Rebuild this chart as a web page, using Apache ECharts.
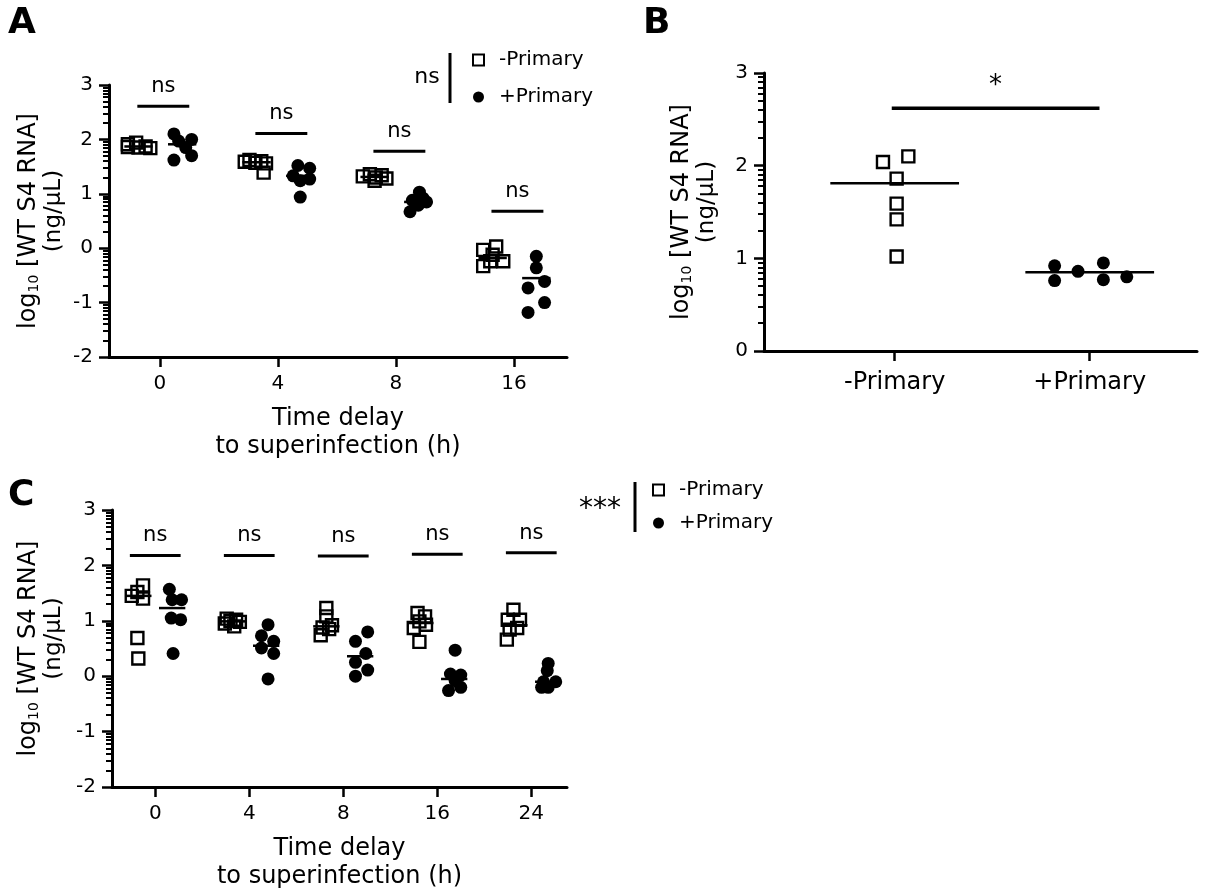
<!DOCTYPE html>
<html>
<head>
<meta charset="utf-8">
<script src="https://cdn.jsdelivr.net/npm/echarts@6/dist/echarts.min.js"></script>
<style>
    html, body {margin: 0; background: #fff;}
    #chart {width: 1225px; height: 892px;}
</style>
</head>
<body>
<div id="chart"></div>
<script>
// ---- panel A : time course, 4 delays ----
let a_times = ['0', '4', '8', '16'];
let a_minus = [
    [1.94, 1.91, 1.87, 1.86, 1.85, 1.84],
    [1.62, 1.60, 1.59, 1.57, 1.56, 1.39],
    [1.36, 1.34, 1.32, 1.30, 1.28, 1.24],
    [0.03, -0.03, -0.12, -0.24, -0.24, -0.33]
];
let a_minus_x = [
    [-0.20, -0.27, -0.12, -0.27, -0.18, -0.08],
    [-0.24, -0.14, -0.28, -0.19, -0.10, -0.12],
    [-0.22, -0.12, -0.28, -0.17, -0.08, -0.18],
    [-0.15, -0.26, -0.18, -0.09, -0.20, -0.26]
];
let a_plus = [
    [2.10, 2.00, 1.97, 1.85, 1.70, 1.62],
    [1.52, 1.47, 1.33, 1.27, 1.24, 0.94],
    [1.03, 0.92, 0.88, 0.85, 0.79, 0.67],
    [-0.15, -0.36, -0.61, -0.73, -1.00, -1.18]
];
let a_plus_x = [
    [0.12, 0.27, 0.16, 0.22, 0.27, 0.12],
    [0.17, 0.27, 0.13, 0.27, 0.19, 0.19],
    [0.20, 0.23, 0.14, 0.26, 0.19, 0.12],
    [0.19, 0.19, 0.26, 0.12, 0.26, 0.12]
];
let a_minus_mid = [1.87, 1.58, 1.31, -0.18];
let a_plus_mid = [1.91, 1.33, 0.85, -0.55];
let a_sig = [2.61, 2.11, 1.78, 0.68];

// ---- panel B : -Primary vs +Primary ----
let b_groups = ['-Primary', '+Primary'];
let b_minus = [2.04, 2.10, 1.86, 1.59, 1.42, 1.02];
let b_minus_x = [-0.06, 0.07, 0.01, 0.01, 0.01, 0.01];
let b_plus = [0.92, 0.76, 0.86, 0.95, 0.77, 0.80];
let b_plus_x = [-0.18, -0.18, -0.06, 0.07, 0.07, 0.19];
let b_mid = [1.81, 0.85];
let b_sig = [2.62];

// ---- panel C : time course, 5 delays ----
let c_times = ['0', '4', '8', '16', '24'];
let c_minus = [
    [1.64, 1.52, 1.45, 1.40, 0.69, 0.32],
    [1.04, 1.02, 1.00, 0.98, 0.95, 0.90],
    [1.23, 1.08, 0.92, 0.88, 0.85, 0.74],
    [1.14, 1.08, 0.99, 0.93, 0.87, 0.62],
    [1.20, 1.02, 1.02, 0.87, 0.84, 0.66]
];
let c_minus_x = [
    [-0.13, -0.19, -0.25, -0.13, -0.19, -0.18],
    [-0.24, -0.14, -0.20, -0.10, -0.26, -0.16],
    [-0.18, -0.18, -0.12, -0.22, -0.15, -0.24],
    [-0.21, -0.13, -0.19, -0.12, -0.25, -0.19],
    [-0.19, -0.25, -0.12, -0.15, -0.23, -0.26]
];
let c_plus = [
    [1.57, 1.38, 1.38, 1.05, 1.02, 0.41],
    [0.93, 0.73, 0.63, 0.51, 0.41, -0.05],
    [0.80, 0.63, 0.41, 0.25, 0.11, 0.00],
    [0.47, 0.04, 0.02, -0.08, -0.20, -0.26],
    [0.23, 0.10, -0.10, -0.10, -0.20, -0.20]
];
let c_plus_x = [
    [0.15, 0.28, 0.18, 0.17, 0.27, 0.19],
    [0.20, 0.13, 0.26, 0.13, 0.26, 0.20],
    [0.26, 0.13, 0.24, 0.13, 0.26, 0.13],
    [0.19, 0.14, 0.25, 0.19, 0.25, 0.12],
    [0.18, 0.17, 0.13, 0.26, 0.11, 0.18]
];
let c_minus_mid = [1.45, 0.99, 0.90, 0.96, 0.92];
let c_plus_mid = [1.23, 0.55, 0.36, -0.05, -0.10];
let c_sig = [2.18, 2.18, 2.17, 2.20, 2.23];

// log10 minor ticks between the integer ticks
let minor_mult = [2, 3, 4, 5, 6, 7, 8, 9];

const FONT = 'DejaVu Sans';
const Y_NAME = '{p|log}{s|10}{n| [WT S4 RNA]}\n{m|(ng/µL)}';
const X_NAME = 'Time delay\nto superinfection (h)';

function gen_points(values, jitter, start = 0) {
    let pts = [];
    values.forEach((group, i) => group.forEach((v, j) => pts.push([start + i + jitter[i][j], v])));
    return pts;
}

function gen_segments(values, offset, half) {
    return values.map((v, i) => [i + offset - half, i + offset + half, v]);
}

function scatter_series(name, data, axis, hollow) {
    return {
        name: name,
        type: 'scatter',
        xAxisIndex: axis,
        yAxisIndex: axis * 2,
        data: data,
        symbol: hollow ? 'rect' : 'circle',
        symbolSize: hollow ? 12 : 13,
        itemStyle: hollow
            ? {color: 'rgba(255,255,255,0)', borderColor: '#000', borderWidth: 2.4, opacity: 1}
            : {color: '#000', opacity: 1},
        emphasis: {disabled: true},
        silent: true,
        z: 4
    };
}

function seg_series(data, axis, width, label = '', label_size = 21) {
    return {
        type: 'custom',
        xAxisIndex: axis,
        yAxisIndex: axis * 2,
        data: data,
        silent: true,
        z: 3,
        renderItem: function (params, api) {
            let p1 = api.coord([api.value(0), api.value(2)]);
            let p2 = api.coord([api.value(1), api.value(2)]);
            let children = [{
                type: 'line',
                shape: {x1: p1[0], y1: p1[1], x2: p2[0], y2: p2[1]},
                style: {stroke: '#000', lineWidth: width}
            }];
            if (label) children.push({
                type: 'text',
                x: (p1[0] + p2[0]) / 2,
                y: p1[1] - 9,
                style: {
                    text: label, fill: '#000', fontFamily: FONT, fontSize: label_size,
                    align: 'center', verticalAlign: 'bottom'
                }
            });
            return {type: 'group', children: children};
        }
    };
}

function gen_x_axis(grid, labels, min, max, extra = {}) {
    let idx = labels.map((l, i) => i);
    let axis = {
        type: 'value',
        gridIndex: grid,
        min: min,
        max: max,
        splitLine: {show: false},
        axisLine: {onZero: false, lineStyle: {color: '#000', width: 3}},
        axisTick: {customValues: idx, length: 10, lineStyle: {color: '#000', width: 2.5}},
        axisLabel: {
            customValues: idx,
            formatter: v => labels[Math.round(v)],
            color: '#000', fontFamily: FONT, fontSize: 20, margin: 17
        },
        name: X_NAME,
        nameLocation: 'middle',
        nameGap: 48,
        nameTextStyle: {color: '#000', fontFamily: FONT, fontSize: 24, lineHeight: 28}
    };
    for (let key in extra) axis[key] = extra[key];
    return axis;
}

function gen_y_axes(grid, min, max, name_gap) {
    let minor = [];
    for (let n = min; n < max; n++) minor_mult.forEach(k => minor.push(n + Math.log10(k)));
    return [{
        type: 'value',
        gridIndex: grid,
        position: 'left',
        min: min,
        max: max,
        interval: 1,
        splitLine: {show: false},
        axisLine: {show: true, onZero: false, lineStyle: {color: '#000', width: 3}},
        axisTick: {show: true, length: 10, lineStyle: {color: '#000', width: 2.5}},
        axisLabel: {color: '#000', fontFamily: FONT, fontSize: 20, margin: 16},
        name: Y_NAME,
        nameLocation: 'middle',
        nameRotate: 90,
        nameGap: name_gap,
        nameTextStyle: {
            color: '#000', fontFamily: FONT,
            rich: {
                p: {fontSize: 24, lineHeight: 28, verticalAlign: 'bottom', fontFamily: FONT, color: '#000'},
                n: {fontSize: 24, lineHeight: 28, verticalAlign: 'bottom', fontFamily: FONT, color: '#000'},
                s: {fontSize: 14, lineHeight: 14, verticalAlign: 'bottom', fontFamily: FONT, color: '#000'},
                m: {fontSize: 23, lineHeight: 27, fontFamily: FONT, color: '#000', padding: [0, 0, 0, 20]}
            }
        }
    }, {
        type: 'value',
        gridIndex: grid,
        position: 'left',
        offset: 0,
        min: min,
        max: max,
        splitLine: {show: false},
        axisLine: {show: false, onZero: false},
        axisLabel: {show: false},
        axisTick: {show: true, customValues: minor, length: 6, lineStyle: {color: '#000', width: 2}}
    }];
}

function gen_legend(left, top, gap) {
    return {
        left: left,
        top: top,
        orient: 'vertical',
        padding: 0,
        itemWidth: 11,
        itemHeight: 11,
        itemGap: gap,
        selectedMode: false,
        textStyle: {color: '#000', fontFamily: FONT, fontSize: 20, padding: [0, 0, 0, 10]},
        data: ['-Primary', '+Primary']
    };
}

let chart = echarts.init(document.getElementById('chart'), null, {renderer: 'canvas'});

let option = {
    backgroundColor: '#fff',
    animation: false,
    title: [
        {text: 'A', left: 8, top: 6, padding: 0, textStyle: {fontFamily: FONT, fontWeight: 'bold', fontSize: 36, color: '#000'}},
        {text: 'B', left: 643, top: 6, padding: 0, textStyle: {fontFamily: FONT, fontWeight: 'bold', fontSize: 36, color: '#000'}},
        {text: 'C', left: 8, top: 478, padding: 0, textStyle: {fontFamily: FONT, fontWeight: 'bold', fontSize: 36, color: '#000'}}
    ],
    legend: [gen_legend(472, 50, 17), gen_legend(652, 480, 13)],
    grid: [
        {left: 109, top: 85, width: 458, height: 272},
        {left: 764, top: 73, width: 433, height: 278},
        {left: 112, top: 510, width: 455, height: 278}
    ],
    xAxis: [
        gen_x_axis(0, a_times, -0.43, 3.45),
        gen_x_axis(1, b_groups, -0.67, 1.55, {
            name: '',
            axisLabel: {
                customValues: [0, 1], formatter: v => b_groups[Math.round(v)],
                color: '#000', fontFamily: FONT, fontSize: 24, margin: 20
            }
        }),
        gen_x_axis(2, c_times, -0.46, 4.38)
    ],
    yAxis: [].concat(gen_y_axes(0, -2, 3, 41), gen_y_axes(1, 0, 3, 43), gen_y_axes(2, -2, 3, 44)),
    graphic: [
        {type: 'text', x: 427, y: 77, style: {text: 'ns', fill: '#000', fontFamily: FONT, fontSize: 22, textAlign: 'center', textVerticalAlign: 'middle'}},
        {type: 'line', shape: {x1: 450, y1: 53, x2: 450, y2: 103}, style: {stroke: '#000', lineWidth: 3}},
        {type: 'text', x: 600, y: 510, style: {text: '***', fill: '#000', fontFamily: FONT, fontSize: 28, textAlign: 'center', textVerticalAlign: 'middle'}},
        {type: 'line', shape: {x1: 635, y1: 482, x2: 635, y2: 532}, style: {stroke: '#000', lineWidth: 3}}
    ],
    series: [
        scatter_series('-Primary', gen_points(a_minus, a_minus_x), 0, true),
        scatter_series('+Primary', gen_points(a_plus, a_plus_x), 0, false),
        seg_series(gen_segments(a_minus_mid, -0.18, 0.12), 0, 2.5),
        seg_series(gen_segments(a_plus_mid, 0.19, 0.12), 0, 2.5),
        seg_series(gen_segments(a_sig, 0.03, 0.22), 0, 3, 'ns'),

        scatter_series('-Primary', gen_points([b_minus], [b_minus_x]), 1, true),
        scatter_series('+Primary', gen_points([b_plus], [b_plus_x], 1), 1, false),
        seg_series(gen_segments(b_mid, 0, 0.33), 1, 2.5),
        seg_series(b_sig.map(v => [-0.015, 1.05, v]), 1, 3.5, '*', 26),

        scatter_series('-Primary', gen_points(c_minus, c_minus_x), 2, true),
        scatter_series('+Primary', gen_points(c_plus, c_plus_x), 2, false),
        seg_series(gen_segments(c_minus_mid, -0.18, 0.14), 2, 2.5),
        seg_series(gen_segments(c_plus_mid, 0.18, 0.14), 2, 2.5),
        seg_series(gen_segments(c_sig, 0.0, 0.27), 2, 3, 'ns')
    ]
};

chart.setOption(option);
</script>
</body>
</html>
